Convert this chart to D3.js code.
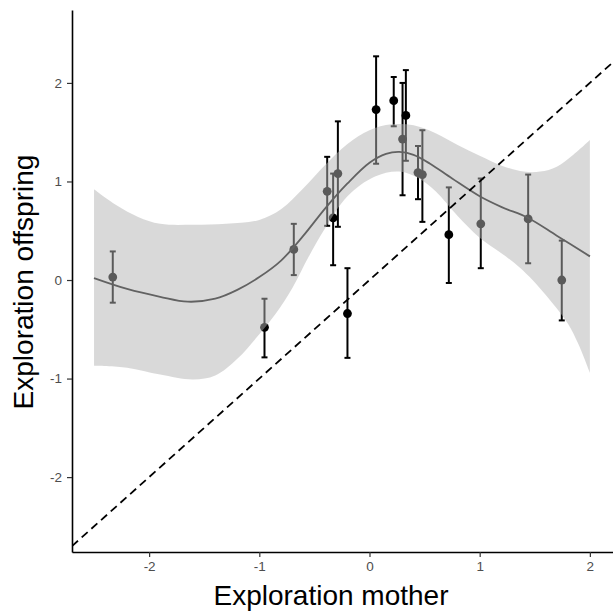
<!doctype html>
<html>
<head>
<meta charset="utf-8">
<title>Exploration offspring vs mother</title>
<style>
  body { margin:0; background:#fff; }
  svg { display:block; font-family: "Liberation Sans", Arial, sans-serif; }
  .axis path { stroke:#000; stroke-width:1.6px; }
  .axis line { stroke:#333; stroke-width:1.2px; }
  .axis text { fill:#4d4d4d; font-size:13.5px; }
  .title { font-size:28px; fill:#000; }
</style>
<script src="https://cdnjs.cloudflare.com/ajax/libs/d3/7.8.5/d3.min.js"></script>
</head>
<body>
<svg id="chart" width="613" height="614"></svg>
<script>

// data

var tickVals = [-2, -1, 0, 1, 2]

// points with error bars
var ptX  = [-2.33, -0.953, -0.687, -0.384, -0.33, -0.287, -0.20, 0.06, 0.22, 0.30, 0.33, 0.44, 0.48, 0.72, 1.01, 1.44, 1.745]
var ptY  = [0.03, -0.48, 0.31, 0.90, 0.63, 1.08, -0.34, 1.73, 1.82, 1.43, 1.67, 1.09, 1.07, 0.46, 0.57, 0.62, 0.00]
var ptLo = [-0.23, -0.785, 0.05, 0.55, 0.15, 0.54, -0.79, 1.18, 1.56, 0.86, 1.21, 0.82, 0.59, -0.03, 0.12, 0.17, -0.41]
var ptHi = [0.29, -0.19, 0.57, 1.25, 1.08, 1.61, 0.12, 2.27, 2.06, 2.00, 2.13, 1.36, 1.52, 0.94, 1.03, 1.07, 0.40]

// smooth fit
var fitX = [-2.5, -2.2, -1.9, -1.65, -1.4, -1.2, -1.0, -0.8, -0.6, -0.4, -0.2, 0.0, 0.15, 0.27, 0.4, 0.55, 0.75, 1.0, 1.2, 1.44, 1.7, 2.0]
var fitY = [0.02, -0.09, -0.17, -0.22, -0.19, -0.10, 0.03, 0.20, 0.45, 0.73, 0.98, 1.19, 1.28, 1.30, 1.27, 1.18, 1.03, 0.85, 0.74, 0.63, 0.45, 0.24]

// confidence band
var upX = [-2.5, -2.3, -2.1, -1.9, -1.6, -1.3, -1.0, -0.8, -0.6, -0.4, -0.2, 0.0, 0.2, 0.4, 0.6, 0.8, 1.0, 1.2, 1.4, 1.55, 1.7, 1.85, 2.0]
var upY = [0.92, 0.76, 0.64, 0.57, 0.56, 0.57, 0.61, 0.72, 0.93, 1.17, 1.38, 1.52, 1.58, 1.57, 1.49, 1.37, 1.26, 1.16, 1.10, 1.10, 1.15, 1.27, 1.42]
var loX = [-2.5, -2.2, -1.9, -1.6, -1.4, -1.2, -1.0, -0.85, -0.7, -0.55, -0.4, -0.2, 0.05, 0.27, 0.45, 0.6, 0.8, 1.0, 1.2, 1.36, 1.48, 1.65, 1.8, 1.9, 2.0]
var loY = [-0.87, -0.89, -0.96, -1.01, -0.97, -0.80, -0.55, -0.34, -0.08, 0.24, 0.53, 0.85, 1.05, 1.10, 1.03, 0.90, 0.65, 0.43, 0.27, 0.13, 0.0, -0.22, -0.44, -0.66, -0.94]

var svg = d3.select("#chart")

var x = d3.scaleLinear().domain([-2.7, 2.21]).range([72, 613])
var y = d3.scaleLinear().domain([-2.76, 2.74]).range([552, 10])

svg.append("clipPath").attr("id", "plotclip")
   .append("rect")
   .attr("x", x.range()[0]).attr("y", y.range()[1])
   .attr("width", x.range()[1] - x.range()[0])
   .attr("height", y.range()[0] - y.range()[1])

var plot = svg.append("g").attr("clip-path", "url(#plotclip)")

// error bars
var bars = plot.append("g")
ptX.forEach(function(d, i) {
  bars.append("line")
      .attr("x1", x(d)).attr("x2", x(d))
      .attr("y1", y(ptLo[i])).attr("y2", y(ptHi[i]))
      .attr("stroke", "#000").attr("stroke-width", 2)
  ;[ptLo[i], ptHi[i]].forEach(function(v) {
    bars.append("line")
        .attr("x1", x(d) - 3).attr("x2", x(d) + 3)
        .attr("y1", y(v)).attr("y2", y(v))
        .attr("stroke", "#000").attr("stroke-width", 2)
  })
})

// points
plot.append("g").selectAll("circle")
    .data(ptX)
    .enter()
    .append("circle")
    .attr("cx", function(d){ return x(d) })
    .attr("cy", function(d, i){ return y(ptY[i]) })
    .attr("r", 4.4)
    .attr("fill", "#000")

// fitted curve
var line = d3.line()
  .x(function(d){ return x(d[0]) })
  .y(function(d){ return y(d[1]) })
  .curve(d3.curveCatmullRom.alpha(0.5))

plot.append("path")
    .attr("d", line(d3.zip(fitX, fitY)))
    .attr("fill", "none")
    .attr("stroke", "#111")
    .attr("stroke-width", 1.8)

// band over everything, semi transparent
var upPath = line(d3.zip(upX, upY))
var loPath = line(d3.zip(loX, loY).reverse())
plot.append("path")
    .attr("d", upPath + "L" + loPath.slice(1) + "Z")
    .attr("fill", "#b3b3b3")
    .attr("fill-opacity", 0.5)

// y = x reference line
var dom = x.domain()
plot.append("line")
    .attr("x1", x(dom[0])).attr("y1", y(dom[0]))
    .attr("x2", x(dom[1])).attr("y2", y(dom[1]))
    .attr("stroke", "#000")
    .attr("stroke-width", 1.8)
    .attr("stroke-dasharray", "8,5")

// axes
var fmt = function(d){ return String(d) }

svg.append("g")
   .attr("class", "axis")
   .attr("transform", "translate(0," + y.range()[0] + ")")
   .call(d3.axisBottom(x).tickValues(tickVals).tickFormat(fmt).tickSize(5).tickPadding(4).tickSizeOuter(0))

svg.append("g")
   .attr("class", "axis")
   .attr("transform", "translate(" + x.range()[0] + ",0)")
   .call(d3.axisLeft(y).tickValues(tickVals).tickFormat(fmt).tickSize(5).tickPadding(5).tickSizeOuter(0))

// titles
svg.append("text")
   .attr("class", "title")
   .attr("x", 331).attr("y", 605)
   .attr("text-anchor", "middle")
   .text("Exploration mother")

svg.append("text")
   .attr("class", "title")
   .attr("transform", "translate(33,282) rotate(-90)")
   .attr("text-anchor", "middle")
   .text("Exploration offspring")

</script>
</body>
</html>
